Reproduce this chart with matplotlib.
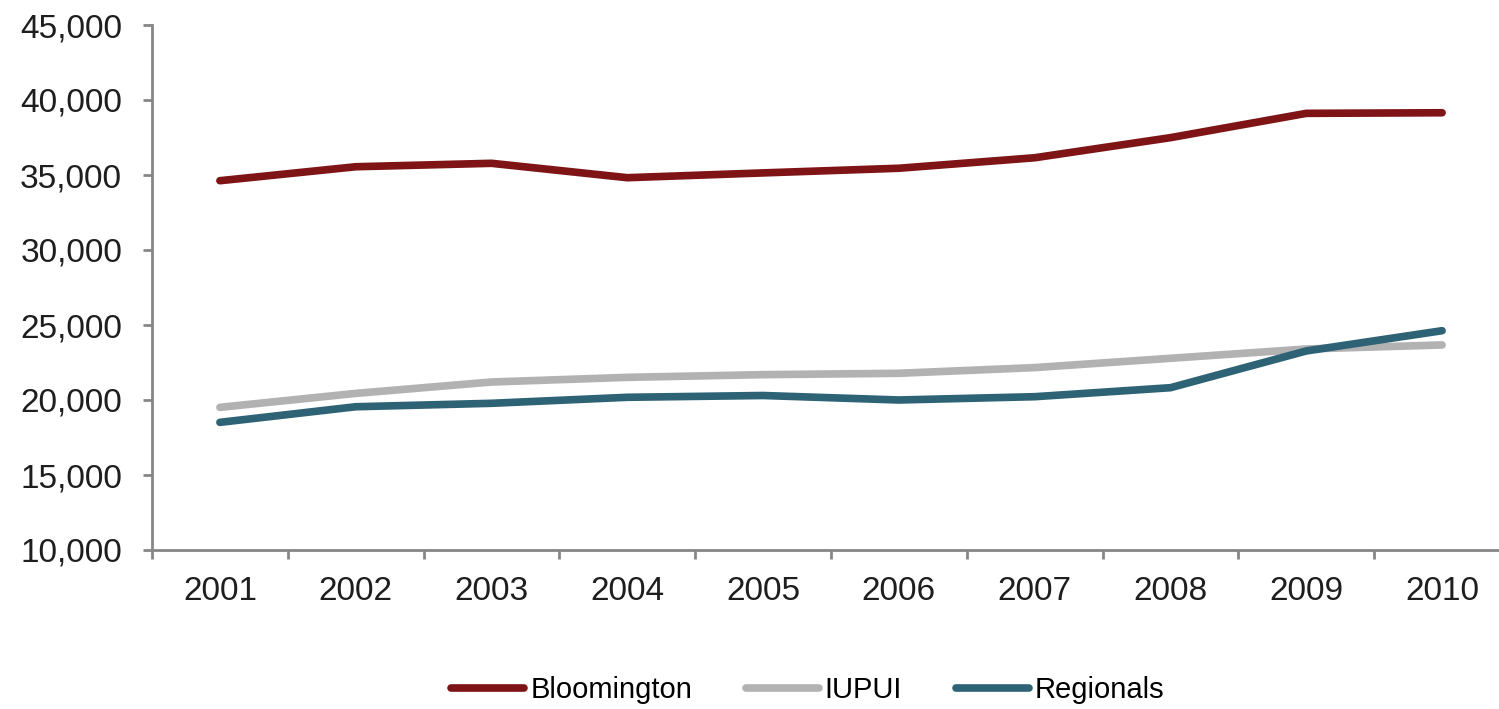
import matplotlib
matplotlib.use("Agg")
import matplotlib.pyplot as plt
from matplotlib.ticker import FuncFormatter, FixedLocator

years = ["2001", "2002", "2003", "2004", "2005", "2006", "2007", "2008", "2009", "2010"]
bloomington = [34620, 35550, 35780, 34820, 35140, 35450, 36150, 37490, 39110, 39150]
iupui = [19510, 20440, 21200, 21510, 21690, 21780, 22160, 22780, 23400, 23670]
regionals = [18510, 19550, 19780, 20180, 20300, 20000, 20220, 20820, 23270, 24620]

series = [
    ("Bloomington", bloomington, "#7f1416"),
    ("IUPUI", iupui, "#b2b2b2"),
    ("Regionals", regionals, "#2e6375"),
]

plt.rcParams["font.family"] = ["Liberation Sans", "DejaVu Sans"]

fig = plt.figure(figsize=(14.99, 7.09), dpi=100)
ax = fig.add_axes([152 / 1499, 1 - 550 / 709, 1358 / 1499, 525 / 709])

x = list(range(len(years)))
for name, vals, col in series:
    ax.plot(x, vals, color=col, lw=5.5, solid_capstyle="round", solid_joinstyle="round", label=name)

ax.set_xlim(-0.5, len(years) - 0.5)
ax.set_ylim(10000, 45000)
ax.set_yticks(range(10000, 45001, 5000))
ax.yaxis.set_major_formatter(FuncFormatter(lambda v, p: f"{int(v):,}"))
ax.set_xticks(x)
ax.set_xticklabels(years)
ax.xaxis.set_minor_locator(FixedLocator([i - 0.5 for i in range(len(years) + 1)]))

axis_col = "#868686"
for s in ["top", "right"]:
    ax.spines[s].set_visible(False)
for s in ["left", "bottom"]:
    ax.spines[s].set_color(axis_col)
    ax.spines[s].set_linewidth(2)

ax.tick_params(axis="y", which="major", length=6.5, width=2, color=axis_col,
               labelsize=24, labelcolor="#1e1e1e", pad=15)
ax.tick_params(axis="x", which="major", length=0, labelsize=24, labelcolor="#1e1e1e", pad=19)
ax.tick_params(axis="x", which="minor", length=6.5, width=2, color=axis_col)

fig.legend(loc="center", bbox_to_anchor=(808 / 1499, 1 - 690 / 709), ncol=3, frameon=False,
           fontsize=21, handlelength=2.5, handletextpad=0.2, columnspacing=1.85)

fig.savefig("out.png", dpi=100)
